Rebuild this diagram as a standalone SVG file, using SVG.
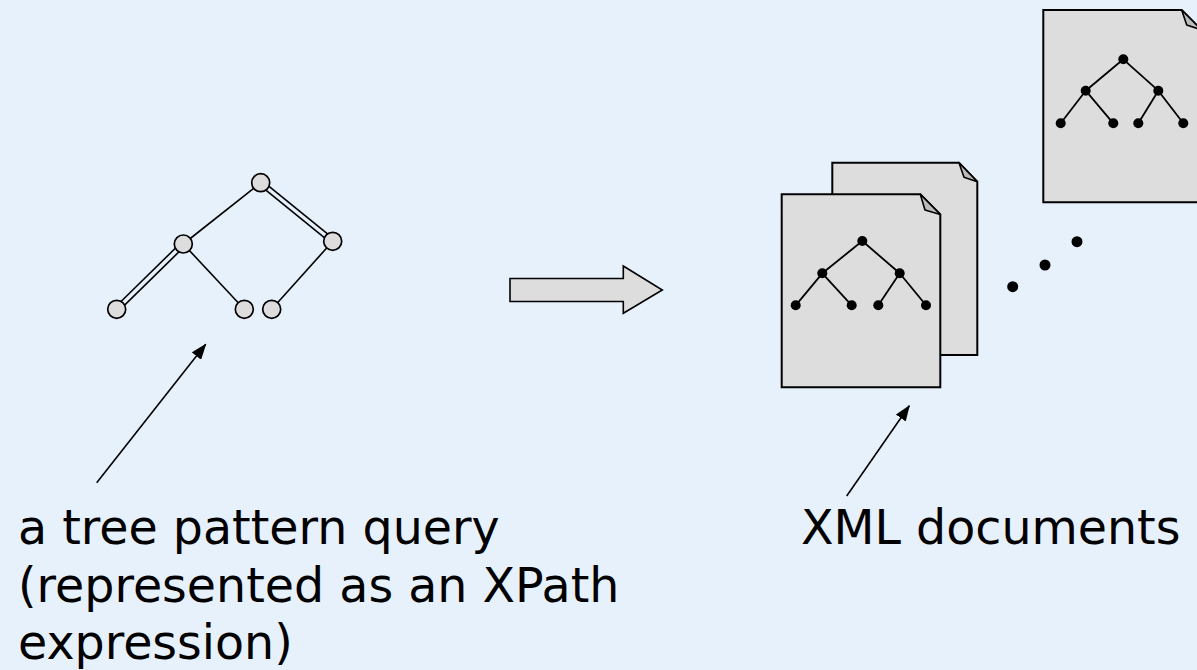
<svg xmlns="http://www.w3.org/2000/svg" width="1197" height="670" viewBox="0 0 1197 670">
  <defs>
    <style>
      .qedge { stroke: #000; stroke-width: 1.6; fill: none; }
      .qnode { fill: #DDDDDD; stroke: #000; stroke-width: 1.7; }
      .doc { fill: #DDDDDD; stroke: #000; stroke-width: 2; stroke-linejoin: miter; }
      .fold { fill: #BBBBBB; stroke: #000; stroke-width: 1.6; stroke-linejoin: round; }
      .dedge { stroke: #000; stroke-width: 1.8; fill: none; }
      .dot { fill: #000; }
      .lbl { font-family: "DejaVu Sans", Verdana, sans-serif; font-size: 47.5px; fill: #000; }
      .ptr { stroke: #000; stroke-width: 1.6; fill: none; marker-end: url(#ah); }
    </style>
    <marker id="ah" viewBox="0 0 16 12" refX="15" refY="6" markerWidth="16" markerHeight="12" markerUnits="userSpaceOnUse" orient="auto">
      <path d="M0,0 L16,6 L0,12 Z" fill="#000"/>
    </marker>
  </defs>
  <rect x="0" y="0" width="1197" height="670" fill="#E7F1FB"/>

  <g id="query-tree">
    <line class="qedge" x1="260.7" y1="182.7" x2="183.3" y2="244"/>
    <line class="qedge" x1="259.1" y1="184.6" x2="331.1" y2="243.2"/>
    <line class="qedge" x1="262.3" y1="180.8" x2="334.3" y2="239.4"/>
    <line class="qedge" x1="185.1" y1="245.8" x2="118.5" y2="311.1"/>
    <line class="qedge" x1="181.5" y1="242.2" x2="114.9" y2="307.5"/>
    <line class="qedge" x1="183.3" y1="244" x2="244.3" y2="309.3"/>
    <line class="qedge" x1="332.7" y1="241.3" x2="271.7" y2="309.3"/>
    <circle class="qnode" cx="260.7" cy="182.7" r="9"/>
    <circle class="qnode" cx="183.3" cy="244" r="9"/>
    <circle class="qnode" cx="332.7" cy="241.3" r="9"/>
    <circle class="qnode" cx="116.7" cy="309.3" r="9"/>
    <circle class="qnode" cx="244.3" cy="309.3" r="9"/>
    <circle class="qnode" cx="271.7" cy="309.3" r="9"/>
  </g>

  <g id="block-arrow">
    <path d="M510,278.5 H623.3 V266 L662.3,290 L623.3,313.3 V301.5 H510 Z" fill="#DDDDDD" stroke="#000" stroke-width="1.6" stroke-linejoin="miter"/>
  </g>

  <g id="doc-back">
    <path class="doc" d="M832.3,162.7 H959 L977.3,181.7 V355 H832.3 Z"/>
    <path class="fold" d="M959,162.7 L964,177.3 L977.3,181.7 Z"/>
  </g>

  <g id="doc-front">
    <path class="doc" d="M781.7,194.3 H920.3 L940.3,214.5 V387.3 H781.7 Z"/>
    <path class="fold" d="M920.3,194.3 L925,210 L940.3,214.5 Z"/>
    <line class="dedge" x1="862.3" y1="241" x2="822.3" y2="273.3"/>
    <line class="dedge" x1="862.3" y1="241" x2="899.7" y2="273.3"/>
    <line class="dedge" x1="822.3" y1="273.3" x2="795.7" y2="305.3"/>
    <line class="dedge" x1="822.3" y1="273.3" x2="851.7" y2="305.3"/>
    <line class="dedge" x1="899.7" y1="273.3" x2="878.3" y2="305.3"/>
    <line class="dedge" x1="899.7" y1="273.3" x2="926" y2="305.3"/>
    <circle class="dot" cx="862.3" cy="241" r="5"/>
    <circle class="dot" cx="822.3" cy="273.3" r="5"/>
    <circle class="dot" cx="899.7" cy="273.3" r="5"/>
    <circle class="dot" cx="795.7" cy="305.3" r="5"/>
    <circle class="dot" cx="851.7" cy="305.3" r="5"/>
    <circle class="dot" cx="878.3" cy="305.3" r="5"/>
    <circle class="dot" cx="926" cy="305.3" r="5"/>
  </g>

  <g id="doc-far">
    <path class="doc" d="M1043.3,10 H1181.7 L1201.7,30 V202.3 H1043.3 Z"/>
    <path class="fold" d="M1181.7,10 L1186.7,25 L1201.7,30 Z"/>
    <line class="dedge" x1="1123.3" y1="59.3" x2="1085.7" y2="90.7"/>
    <line class="dedge" x1="1123.3" y1="59.3" x2="1158.3" y2="90.7"/>
    <line class="dedge" x1="1085.7" y1="90.7" x2="1060.7" y2="123.3"/>
    <line class="dedge" x1="1085.7" y1="90.7" x2="1113.3" y2="123.3"/>
    <line class="dedge" x1="1158.3" y1="90.7" x2="1138.3" y2="123.3"/>
    <line class="dedge" x1="1158.3" y1="90.7" x2="1183.3" y2="123.3"/>
    <circle class="dot" cx="1123.3" cy="59.3" r="5"/>
    <circle class="dot" cx="1085.7" cy="90.7" r="5"/>
    <circle class="dot" cx="1158.3" cy="90.7" r="5"/>
    <circle class="dot" cx="1060.7" cy="123.3" r="5"/>
    <circle class="dot" cx="1113.3" cy="123.3" r="5"/>
    <circle class="dot" cx="1138.3" cy="123.3" r="5"/>
    <circle class="dot" cx="1183.3" cy="123.3" r="5"/>
  </g>

  <g id="ellipsis">
    <circle class="dot" cx="1012.7" cy="286.7" r="5.5"/>
    <circle class="dot" cx="1045" cy="265" r="5.5"/>
    <circle class="dot" cx="1077" cy="241.7" r="5.5"/>
  </g>

  <g id="connectors">
    <line class="ptr" x1="96.7" y1="482.7" x2="205.7" y2="344.3"/>
    <line class="ptr" x1="846.7" y1="496" x2="909.3" y2="405.7"/>
  </g>

  <g id="label-query">
    <text class="lbl" x="18" y="544">a tree pattern query</text>
    <text class="lbl" x="18" y="601.5">(represented as an XPath</text>
    <text class="lbl" x="18" y="659">expression)</text>
  </g>
  <g id="label-docs">
    <text class="lbl" x="801" y="544">XML documents</text>
  </g>
</svg>
